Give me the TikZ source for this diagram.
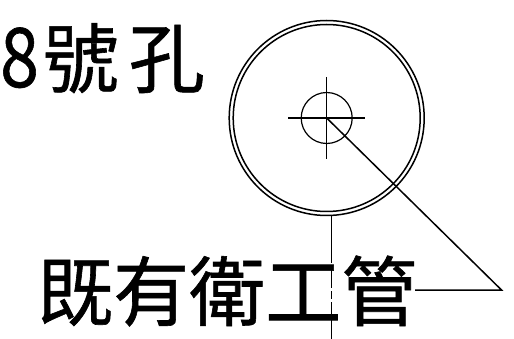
\documentclass[tikz,border=0pt]{standalone}
\usepackage{graphicx}
\usepackage{fontspec}
\newfontfamily\cjk[RawFeature={embolden=0.8}]{Noto Sans CJK TC}
\tikzset{
  lbl/.style={inner sep=0pt,anchor=base west,font=\cjk\fontsize{76}{76}\selectfont},
  ring/.style={draw=black,line width=1.5pt},
  thin line/.style={draw=black,line width=1.2pt},
  lead/.style={draw=black,line width=1.5pt}
}
\begin{document}
\begin{tikzpicture}[x=1pt,y=-1pt]
\useasboundingbox (0,0) rectangle (514,339);
\fill[white] (0,0) rectangle (514,339);
\node[lbl] (hole) at (0,87) {\scalebox{0.85}[1]{\fontsize{82}{82}\selectfont 8}\hspace{4pt}號\hspace{10pt}孔};
\node[lbl] (pipe) at (37,320) {既有衛工管};
\coordinate (c) at (326.7,118);
\draw[ring] (c) circle[radius=97.5];
\draw[ring] (c) circle[radius=93.5];
\draw[thin line] (c) circle[radius=25.5];
\coordinate (cl) at (288,118);
\coordinate (cr) at (365,118);
\coordinate (ct) at (326.7,77);
\coordinate (cb) at (326.7,159);
\draw[thin line] (cl) -- (cr);
\draw[thin line] (ct) -- (cb);
\coordinate (tip) at (501.5,290);
\coordinate (tail) at (415,290);
\draw[lead,line join=miter] (c) -- (tip) -- (tail);
\coordinate (v0) at (331.7,216);
\coordinate (v1) at (331.7,339);
\draw[thin line,dash pattern=on 47pt off 3pt on 22pt off 3pt on 8pt off 3pt on 40pt] (v0) -- (v1);
\end{tikzpicture}
\end{document}
